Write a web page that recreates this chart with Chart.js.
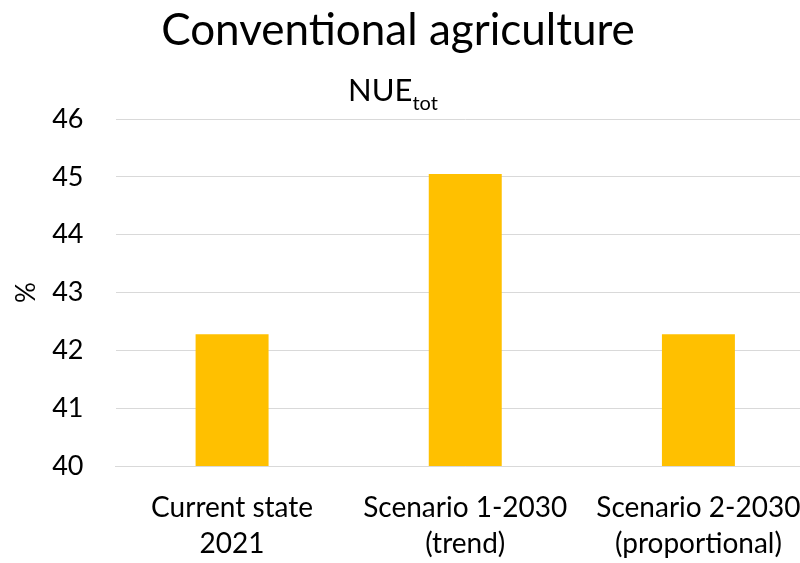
<!DOCTYPE html>
<html>
<head>
<meta charset="utf-8">
<script src="https://cdn.jsdelivr.net/npm/chart.js@4/dist/chart.umd.min.js"></script>
<style>
  html, body { margin: 0; padding: 0; background: #ffffff; overflow: hidden; }
  #wrap { width: 815px; height: 563px; }
</style>
</head>
<body>
<div id="wrap"><canvas id="c" width="815" height="563"></canvas></div>
<script>
const categories = [["Current state", "2021"], ["Scenario 1-2030", "(trend)"], ["Scenario 2-2030", "(proportional)"]];
const nueValues = [42.28, 45.05, 42.28];
const yTicks = [40, 41, 42, 43, 44, 45, 46];
const chartTitle = 'Conventional agriculture';
const subtitleMain = 'NUE';
const subtitleSub = 'tot';

const FONT = "Lato, 'Open Sans', 'Liberation Sans', sans-serif";

const titleDrawer = {
  id: 'titleDrawer',
  afterDraw(chart) {
    const ctx = chart.ctx;
    const top = chart.chartArea.top;
    ctx.save();
    ctx.fillStyle = '#000000';
    ctx.textBaseline = 'alphabetic';
    ctx.font = "44px " + FONT;
    ctx.textAlign = 'center';
    ctx.fillText(chartTitle, 398, 45);
    ctx.textAlign = 'left';
    const mainFont = "31px " + FONT;
    const subFont = "20px " + FONT;
    ctx.font = mainFont;
    const w1 = ctx.measureText(subtitleMain).width;
    ctx.font = subFont;
    const w2 = ctx.measureText(subtitleSub).width;
    const x0 = 393 - (w1 + w2) / 2;
    ctx.font = mainFont;
    ctx.fillText(subtitleMain, x0, top - 18);
    ctx.font = subFont;
    ctx.fillText(subtitleSub, x0 + w1, top - 9);
    ctx.restore();
  }
};

new Chart(document.getElementById('c'), {
  type: 'bar',
  data: {
    labels: categories,
    datasets: [{
      label: 'NUEtot',
      data: nueValues,
      backgroundColor: '#FFC000',
      borderWidth: 0,
      barPercentage: 0.313,
      categoryPercentage: 1.0
    }]
  },
  options: {
    responsive: false,
    animation: false,
    devicePixelRatio: 1,
    layout: { padding: { left: 10, right: 0, top: 0, bottom: 0 } },
    plugins: {
      legend: { display: false },
      tooltip: { enabled: false },
      title: {
        display: true,
        text: chartTitle,
        color: 'rgba(0,0,0,0)',
        font: { family: FONT, size: 43, weight: 'normal', lineHeight: 1.2 },
        padding: { top: 5, bottom: 20 }
      },
      subtitle: {
        display: true,
        text: subtitleMain,
        color: 'rgba(0,0,0,0)',
        font: { family: FONT, size: 30, weight: 'normal', lineHeight: 1.2 },
        padding: { top: 0, bottom: 6.4 }
      }
    },
    scales: {
      x: {
        offset: true,
        afterFit(scale) { scale.height = 97; scale.paddingLeft = 0; scale.paddingRight = 0; },
        grid: { display: false, drawTicks: false },
        border: { display: true, color: '#D9D9D9', width: 1 },
        ticks: {
          color: '#000000',
          font: { family: FONT, size: 28, lineHeight: 1.32 },
          padding: 23,
          maxRotation: 0,
          autoSkip: false
        }
      },
      y: {
        min: 40,
        max: 46,
        afterBuildTicks(scale) { scale.ticks = yTicks.map(v => ({ value: v })); },
        afterFit(scale) { scale.width = 105.5; },
        grid: { color: '#D9D9D9', lineWidth: 1, drawTicks: false },
        border: { display: false },
        ticks: {
          color: '#000000',
          font: { family: FONT, size: 27 },
          padding: 32
        },
        title: {
          display: true,
          text: '%',
          color: '#000000',
          font: { family: FONT, size: 26 },
          padding: { top: 1.5, bottom: 10 }
        }
      }
    }
  },
  plugins: [titleDrawer]
});
</script>
</body>
</html>
